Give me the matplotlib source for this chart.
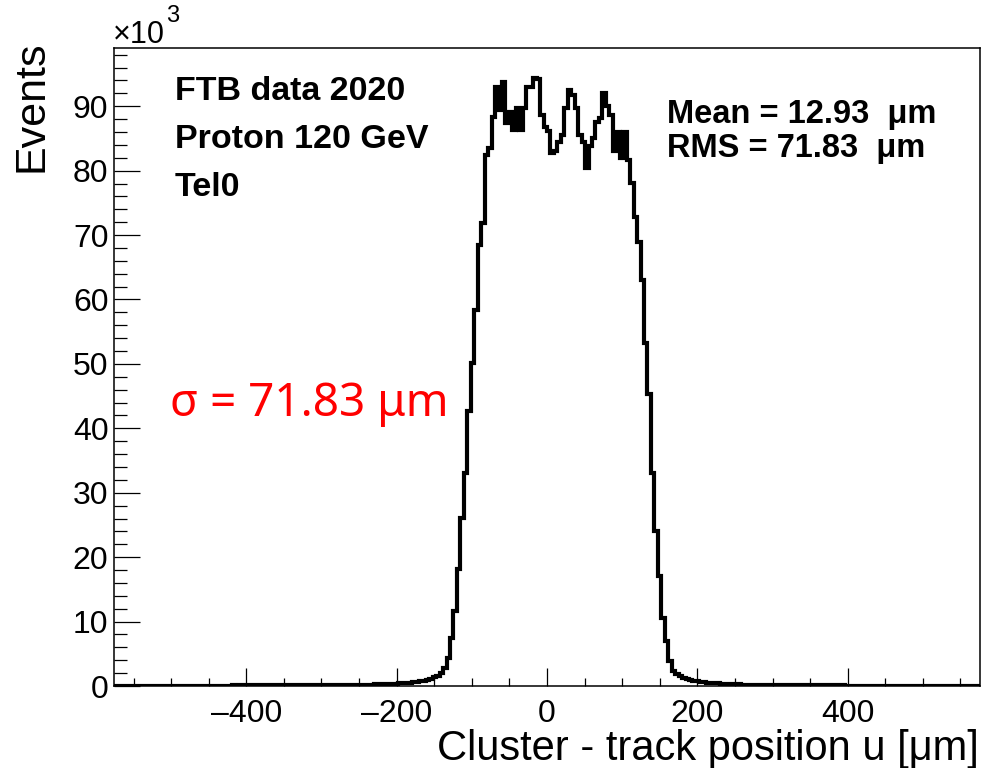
import numpy as np
import matplotlib.pyplot as plt
from matplotlib.ticker import MultipleLocator

plt.rcParams['font.family'] = ['Liberation Sans', 'DejaVu Sans']

# histogram: 250 bins from -576 to 576 um, contents in units of 10^3 events
x_lo, x_hi, n_bins = -576.0, 576.0, 250

left_tail = [
    0.03, 0.03, 0.03, 0.03, 0.03, 0.03, 0.04, 0.03, 0.04, 0.04,
    0.04, 0.04, 0.04, 0.04, 0.05, 0.04, 0.05, 0.05, 0.05, 0.05,
    0.05, 0.05, 0.06, 0.05, 0.06, 0.06, 0.06, 0.06, 0.07, 0.06,
    0.07, 0.07, 0.07, 0.07, 0.08, 0.07, 0.08, 0.08, 0.08, 0.08,
    0.09, 0.08, 0.09, 0.09, 0.09, 0.09, 0.10, 0.10, 0.10, 0.10,
    0.10, 0.11, 0.11, 0.11, 0.11, 0.11, 0.10, 0.11, 0.11, 0.12,
    0.12, 0.13, 0.13, 0.14, 0.14, 0.15, 0.16, 0.16, 0.17, 0.18,
    0.19, 0.20, 0.21, 0.22, 0.23, 0.25, 0.26, 0.28, 0.30, 0.32,
    0.34, 0.37, 0.40, 0.44, 0.48, 0.53, 0.59, 0.66, 0.74, 0.84,
    0.96, 1.12, 1.32, 1.60,
]
core = [
    2.0, 2.8, 4.4, 7.5, 11.7, 18.2, 26.1, 33.1, 42.7, 50.1,
    58.3, 68.4, 71.8, 82.5, 83.5, 88.3, 93.0, 89.4, 93.8, 87.4,
    89.1, 86.3, 89.7, 86.3, 89.7, 93.0, 93.0, 94.4, 94.2, 88.6,
    86.8, 86.2, 82.7, 83.0, 84.4, 85.5, 89.7, 92.5, 91.8, 89.7,
    85.5, 84.4, 80.4, 83.8, 85.0, 87.5, 88.1, 92.0, 90.0, 88.6,
    83.0, 86.0, 82.0, 86.0, 81.6, 78.1,
    72.8, 68.9, 63.0, 53.2, 45.4, 33.1, 24.1, 17.1, 10.6, 7.0,
    3.9, 2.3, 1.9, 1.6,
]
right_tail = [
    1.30, 1.10, 0.95, 0.82, 0.72, 0.63, 0.56, 0.50, 0.45, 0.43,
    0.41, 0.37, 0.34, 0.31, 0.29, 0.27, 0.25, 0.23, 0.22, 0.21,
    0.20, 0.19, 0.18, 0.17, 0.16, 0.15, 0.15, 0.14, 0.14, 0.13,
    0.13, 0.12, 0.12, 0.11, 0.11, 0.11, 0.10, 0.10, 0.10, 0.09,
    0.09, 0.09, 0.09, 0.08, 0.08, 0.08, 0.08, 0.07, 0.07, 0.07,
    0.07, 0.07, 0.06, 0.06, 0.06, 0.06, 0.06, 0.06, 0.05, 0.05,
    0.05, 0.06, 0.05, 0.05, 0.05, 0.05, 0.04, 0.05, 0.05, 0.04,
    0.04, 0.04, 0.04, 0.04, 0.04, 0.03, 0.04, 0.04, 0.03, 0.03,
    0.03, 0.03, 0.03, 0.03, 0.03, 0.02,
]
counts = np.array(left_tail + core + right_tail)
edges = np.linspace(x_lo, x_hi, len(counts) + 1)

legend_lines = ["FTB data 2020", "Proton 120 GeV", "Tel0"]
stats_lines = ["Mean = 12.93  \u03bcm", "RMS = 71.83  \u03bcm"]
sigma_text = "\u03c3 = 71.83 \u03bcm"
xtick_vals = [-400, -200, 0, 200, 400]

W, H = 984, 768
fig = plt.figure(figsize=(W / 100, H / 100), dpi=100)
ax = fig.add_axes([114 / W, 1 - 686 / H, (980 - 114) / W, (686 - 47.5) / H])

ax.stairs(counts, edges, color='black', lw=3)
ax.set_ylim(0, counts.max() * 1.05)

ax.xaxis.set_minor_locator(MultipleLocator(50))
ax.yaxis.set_major_locator(MultipleLocator(10))
ax.yaxis.set_minor_locator(MultipleLocator(2))
ax.tick_params(axis='both', which='both', direction='in', width=0.9,
               top=False, right=False, labelsize=23)
ax.tick_params(axis='x', which='major', length=13, pad=9)
ax.tick_params(axis='x', which='minor', length=6)
ax.tick_params(axis='y', which='major', length=18.5, pad=4)
ax.tick_params(axis='y', which='minor', length=9)
ax.set_xticks(xtick_vals)
ax.set_xticklabels([str(v).replace('-', '\u2013') for v in xtick_vals])
ax.set_xlim(x_lo, x_hi)
for s in ax.spines.values():
    s.set_linewidth(1.1)

fig.text(979 / W, 1 - 760 / H, "Cluster - track position u [\u03bcm]",
         ha='right', va='baseline', fontsize=30)
fig.text(32 / W, 1 - 40 / H, "Events", rotation=90, ha='center', va='top',
         fontsize=31)
fig.text(113 / W, 1 - 43 / H, "\u00d710", ha='left', va='baseline', fontsize=22)
fig.text(166 / W, 1 - 22 / H, "3", ha='left', va='baseline', fontsize=17)

for i, line in enumerate(legend_lines):
    fig.text(175 / W, 1 - (100 + 48 * i) / H, line, ha='left', va='baseline',
             fontsize=24.5, fontweight='bold')
for i, line in enumerate(stats_lines):
    fig.text(667 / W, 1 - (123 + 34 * i) / H, line, ha='left', va='baseline',
             fontsize=23.5, fontweight='bold')

fig.text(170 / W, 1 - 416 / H, sigma_text, ha='left', va='baseline',
         fontsize=33, color='red', family=['Noto Sans', 'DejaVu Sans'])

fig.savefig('out.png', dpi=100)
